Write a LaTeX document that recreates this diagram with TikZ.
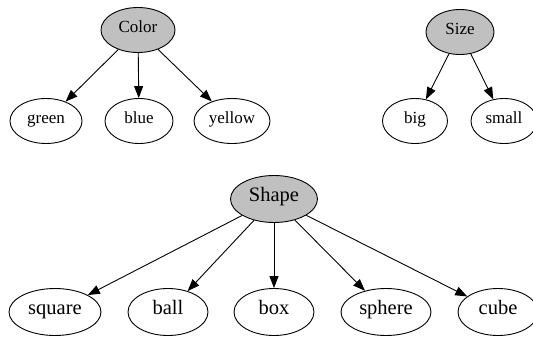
\documentclass[tikz,border=0pt]{standalone}
\usepackage{fontspec}
\setmainfont{Liberation Serif}
\usetikzlibrary{shapes.geometric,arrows.meta}
\definecolor{nodegray}{RGB}{192,192,192}
\tikzset{
  ov/.style={draw=black, ellipse, line width=0.9pt, inner sep=0pt, minimum height=45pt, text height=0.68em, text depth=0.2em, font=\fontsize{17}{17}\selectfont},
  bigov/.style={ov, minimum height=47pt, font=\fontsize{20.5}{20.5}\selectfont},
  root/.style={fill=nodegray},
  link/.style={line width=0.9pt, -{Triangle[length=12pt,width=9pt]}}
}
\begin{document}
\begin{tikzpicture}[x=1pt,y=-1pt]
\clip (0,0) rectangle (533,338);
% Color tree
\node[ov,root,minimum width=74pt] (color) at (138,30) {Color};
\node[ov,minimum width=72pt] (green) at (46,121) {green};
\node[ov,minimum width=68pt] (blue) at (139,121) {blue};
\node[ov,minimum width=76pt] (yellow) at (232,121) {yellow};
% Size tree
\node[ov,root,minimum width=68pt] (size) at (460,32) {Size};
\node[ov,minimum width=65pt] (big) at (415,121) {big};
\node[ov,minimum width=66pt] (small) at (504,121) {small};
% Shape tree
\node[bigov,root,minimum width=87pt] (shape) at (274,199) {Shape};
\node[bigov,minimum width=92pt] (square) at (55,312) {square};
\node[bigov,minimum width=80pt] (ball) at (168,312) {ball};
\node[bigov,minimum width=80pt] (box) at (274,312) {box};
\node[bigov,minimum width=90pt] (sphere) at (386,312) {sphere};
\node[bigov,minimum width=80pt] (cube) at (498,312) {cube};
% edges
\draw[link] (color) -- (green);
\draw[link] (color) -- (blue);
\draw[link] (color) -- (yellow);
\draw[link] (size) -- (big);
\draw[link] (size) -- (small);
\draw[link] (shape) -- (square);
\draw[link] (shape) -- (ball);
\draw[link] (shape) -- (box);
\draw[link] (shape) -- (sphere);
\draw[link] (shape) -- (cube);
\end{tikzpicture}
\end{document}
